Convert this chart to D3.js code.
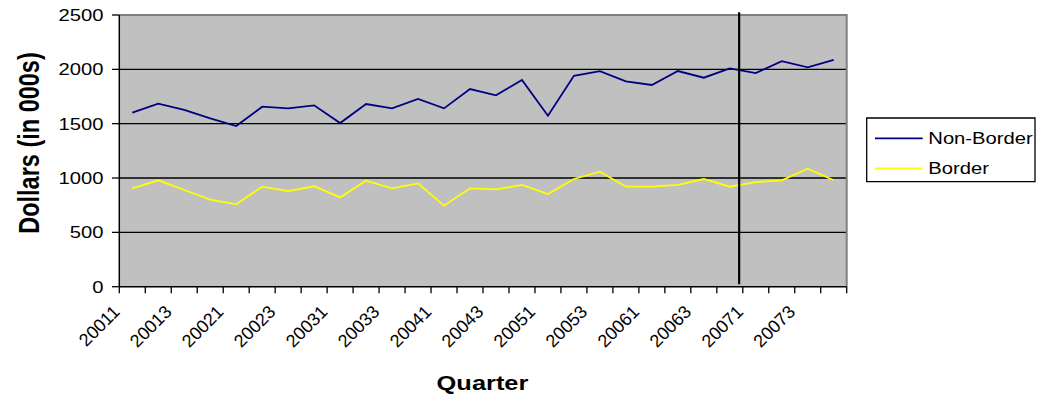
<!DOCTYPE html>
<html>
<head>
<meta charset="utf-8">
<script src="https://cdn.jsdelivr.net/npm/d3@7"></script>
<style>
  html, body { margin: 0; padding: 0; background: #ffffff; }
  svg { display: block; }
  text { font-family: Arial, "Liberation Sans", sans-serif; fill: #000; }
</style>
</head>
<body>
<div id="chart"></div>
<script>
// Quarterly dollars (in thousands), 2000 Q1 to 2007 Q4
const quarters = [
  "20011","20012","20013","20014","20021","20022","20023","20024",
  "20031","20032","20033","20034","20041","20042","20043","20044",
  "20051","20052","20053","20054","20061","20062","20063","20064",
  "20071","20072","20073","20074"
];
const nonBorder = [
  1601, 1684, 1626, 1549, 1478, 1656, 1641, 1669,
  1506, 1681, 1641, 1727, 1641, 1819, 1761, 1902,
  1573, 1941, 1984, 1890, 1856, 1984, 1923, 2009,
  1966, 2076, 2018, 2088
];
const border = [
  905, 979, 890, 801, 758, 920, 880, 924,
  822, 975, 905, 951, 745, 905, 896, 936,
  853, 991, 1058, 920, 920, 936, 991, 920,
  963, 979, 1086, 979
];
const yTicks = [0, 500, 1000, 1500, 2000, 2500];
const seriesNames = ["Non-Border", "Border"];
const seriesColors = ["#000080", "#FFFF00"];
// divider between history and projection, in quarters from the start
const dividerAt = 23.86;

// The drawing is laid out on a narrower canvas and stretched to the page width
const W = 1037, H = 400, SX = 1.24;
const vw = W / SX;
const px = v => v / SX; // page x -> canvas x

const plot = { left: px(119.3), right: px(846.7), top: 15, bottom: 286.7 };

const svg = d3.select("#chart").append("svg")
  .attr("width", W).attr("height", H)
  .attr("viewBox", `0 0 ${vw} ${H}`)
  .attr("preserveAspectRatio", "none");

const x = d3.scaleBand().domain(quarters).range([plot.left, plot.right]).padding(0);
const xq = d3.scaleLinear().domain([0, quarters.length]).range([plot.left, plot.right]);
const y = d3.scaleLinear().domain([0, 2500]).range([plot.bottom, plot.top]);

// plot background
svg.append("rect")
  .attr("x", plot.left).attr("y", plot.top)
  .attr("width", plot.right - plot.left).attr("height", plot.bottom - plot.top)
  .attr("fill", "#C0C0C0");

// horizontal gridlines
svg.append("g").selectAll("line")
  .data(yTicks.filter(d => d > 0 && d < 2500))
  .join("line")
  .attr("x1", plot.left).attr("x2", plot.right)
  .attr("y1", d => y(d)).attr("y2", d => y(d))
  .attr("stroke", "#000").attr("stroke-width", 1.3)
  .attr("vector-effect", "non-scaling-stroke");

// top and right frame
svg.append("path")
  .attr("d", `M${plot.left},${y(2500)}H${plot.right}V${plot.bottom}`)
  .attr("fill", "none").attr("stroke", "#808080").attr("stroke-width", 2)
  .attr("vector-effect", "non-scaling-stroke");

// series lines
const line = d3.line()
  .x((d, i) => x(quarters[i]) + x.bandwidth() / 2)
  .y(d => y(d));
[nonBorder, border].forEach((vals, k) => {
  svg.append("path")
    .datum(vals)
    .attr("d", line)
    .attr("fill", "none")
    .attr("stroke", seriesColors[k])
    .attr("stroke-width", 1.8)
    .attr("stroke-linejoin", "miter")
    .attr("vector-effect", "non-scaling-stroke");
});

// divider
svg.append("line")
  .attr("x1", xq(dividerAt)).attr("x2", xq(dividerAt))
  .attr("y1", plot.top - 2.7).attr("y2", plot.bottom - 2.4)
  .attr("stroke", "#000").attr("stroke-width", 2.2)
  .attr("vector-effect", "non-scaling-stroke");

// y axis
const yAxis = svg.append("g");
yAxis.append("line")
  .attr("x1", plot.left).attr("x2", plot.left)
  .attr("y1", plot.top).attr("y2", plot.bottom)
  .attr("stroke", "#000").attr("stroke-width", 1.5)
  .attr("vector-effect", "non-scaling-stroke");
yAxis.selectAll("line.tick")
  .data(yTicks).join("line").attr("class", "tick")
  .attr("x1", px(112)).attr("x2", plot.left)
  .attr("y1", d => y(d)).attr("y2", d => y(d))
  .attr("stroke", "#000").attr("stroke-width", 1.3)
  .attr("vector-effect", "non-scaling-stroke");
yAxis.selectAll("text")
  .data(yTicks).join("text")
  .attr("x", px(103.5)).attr("y", d => y(d))
  .attr("dy", "0.36em")
  .attr("text-anchor", "end")
  .attr("font-size", 16.3)
  .text(d => d);

// x axis
const xAxis = svg.append("g");
xAxis.append("line")
  .attr("x1", plot.left).attr("x2", plot.right)
  .attr("y1", plot.bottom).attr("y2", plot.bottom)
  .attr("stroke", "#000").attr("stroke-width", 1.5)
  .attr("vector-effect", "non-scaling-stroke");
xAxis.selectAll("line.tick")
  .data(d3.range(quarters.length + 1)).join("line").attr("class", "tick")
  .attr("x1", d => xq(d)).attr("x2", d => xq(d))
  .attr("y1", plot.bottom).attr("y2", plot.bottom + 6.5)
  .attr("stroke", "#000").attr("stroke-width", 1.3)
  .attr("vector-effect", "non-scaling-stroke");
// rotated quarter labels are set in page units (stretch undone)
xAxis.append("g")
  .attr("transform", `scale(${1 / SX},1)`)
  .selectAll("text")
  .data(quarters.filter((q, i) => i % 2 === 0)).join("text")
  .attr("transform", d => `translate(${(x(d) + x.bandwidth() / 2) * SX - 11.5},${313}) rotate(-45)`)
  .attr("text-anchor", "end")
  .attr("font-size", 18)
  .text(d => d);

// axis titles
svg.append("text")
  .attr("x", px(482.5)).attr("y", 390.5)
  .attr("text-anchor", "middle")
  .attr("font-size", 20.5).attr("font-weight", "bold")
  .text("Quarter");
svg.append("text")
  .attr("transform", `translate(${px(39)},${143}) rotate(-90)`)
  .attr("text-anchor", "middle")
  .attr("font-size", 23.5).attr("font-weight", "bold")
  .text("Dollars (in 000s)");

// legend
const lg = svg.append("g");
lg.append("rect")
  .attr("x", px(866.7)).attr("y", 118)
  .attr("width", px(1035) - px(866.7)).attr("height", 181.7 - 118)
  .attr("fill", "#fff").attr("stroke", "#000").attr("stroke-width", 1.3)
  .attr("vector-effect", "non-scaling-stroke");
seriesNames.forEach((name, i) => {
  const ly = 138.3 + i * 30;
  lg.append("line")
    .attr("x1", px(875)).attr("x2", px(922.7))
    .attr("y1", ly).attr("y2", ly)
    .attr("stroke", seriesColors[i]).attr("stroke-width", 1.8)
    .attr("vector-effect", "non-scaling-stroke");
  lg.append("text")
    .attr("x", px(928.3)).attr("y", ly + 5.3)
    .attr("font-size", 16.3)
    .text(name);
});
</script>
</body>
</html>
